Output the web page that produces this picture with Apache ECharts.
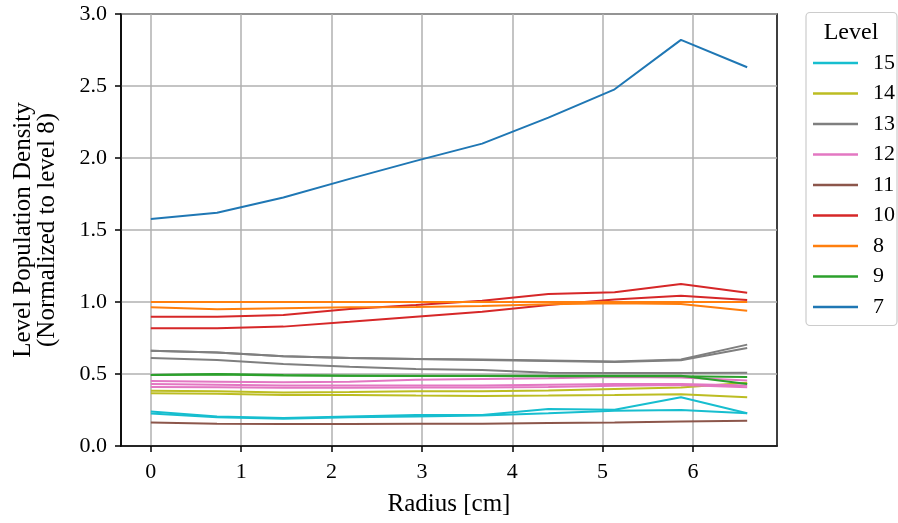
<!DOCTYPE html>
<html>
<head>
<meta charset="utf-8">
<script src="https://cdn.jsdelivr.net/npm/echarts@6/dist/echarts.min.js"></script>
<style>
  html, body { margin: 0; padding: 0; background: #fff; }
  #chart { width: 898px; height: 523px; }
</style>
</head>
<body>
<div id="chart"></div>
<script>
// radius positions [cm]
const radius = [0, 0.733, 1.467, 2.2, 2.933, 3.667, 4.4, 5.133, 5.867, 6.6]
const xTicks = [0, 1, 2, 3, 4, 5, 6]

// level populations normalized to level 8 (several lines per level)
const lvl15a = [0.240, 0.205, 0.195, 0.205, 0.215, 0.215, 0.257, 0.252, 0.338, 0.227]
const lvl15b = [0.225, 0.200, 0.190, 0.200, 0.205, 0.212, 0.227, 0.245, 0.250, 0.227]
const lvl14a = [0.384, 0.380, 0.372, 0.375, 0.380, 0.380, 0.385, 0.396, 0.407, 0.440]
const lvl14b = [0.366, 0.362, 0.355, 0.355, 0.350, 0.347, 0.350, 0.354, 0.360, 0.338]
const lvl13a = [0.662, 0.650, 0.623, 0.611, 0.604, 0.600, 0.593, 0.586, 0.600, 0.704]
const lvl13b = [0.662, 0.650, 0.623, 0.611, 0.604, 0.598, 0.590, 0.583, 0.595, 0.680]
const lvl13c = [0.611, 0.597, 0.569, 0.551, 0.535, 0.528, 0.509, 0.507, 0.507, 0.509]
const lvl12a = [0.452, 0.447, 0.442, 0.447, 0.460, 0.465, 0.470, 0.480, 0.475, 0.455]
const lvl12b = [0.430, 0.425, 0.420, 0.420, 0.420, 0.420, 0.425, 0.430, 0.430, 0.420]
const lvl12c = [0.410, 0.408, 0.405, 0.405, 0.407, 0.407, 0.410, 0.418, 0.424, 0.408]
const lvl11 = [0.164, 0.155, 0.153, 0.153, 0.154, 0.155, 0.160, 0.164, 0.171, 0.176]
const lvl10a = [0.898, 0.898, 0.910, 0.951, 0.979, 1.009, 1.056, 1.067, 1.125, 1.065]
const lvl10b = [0.817, 0.817, 0.829, 0.863, 0.898, 0.933, 0.979, 1.018, 1.044, 1.014]
const lvl8a = [1, 1, 1, 1, 1, 1, 1, 1, 1, 1]
const lvl8b = [0.963, 0.949, 0.956, 0.963, 0.965, 0.972, 0.984, 0.991, 0.986, 0.940]
const lvl9a = [0.493, 0.500, 0.493, 0.488, 0.488, 0.488, 0.488, 0.488, 0.488, 0.430]
const lvl9b = [0.493, 0.497, 0.490, 0.488, 0.486, 0.486, 0.485, 0.486, 0.484, 0.480]
const lvl7 = [1.576, 1.620, 1.726, 1.855, 1.980, 2.100, 2.280, 2.477, 2.820, 2.630]

const levelNames = ['15', '14', '13', '12', '11', '10', '8', '9', '7']
const levelColors = {
    '15': '#17becf', '14': '#bcbd22', '13': '#7f7f7f', '12': '#e377c2', '11': '#8c564b',
    '10': '#d62728', '8': '#ff7f0e', '9': '#2ca02c', '7': '#1f77b4'
}
const lines = [
    ['15', lvl15a], ['15', lvl15b],
    ['14', lvl14a], ['14', lvl14b],
    ['13', lvl13a], ['13', lvl13b], ['13', lvl13c],
    ['12', lvl12a], ['12', lvl12b], ['12', lvl12c],
    ['11', lvl11],
    ['10', lvl10a], ['10', lvl10b],
    ['8', lvl8a], ['8', lvl8b],
    ['9', lvl9a], ['9', lvl9b],
    ['7', lvl7]
]

const font = 'Liberation Serif'

const chart = echarts.init(document.getElementById('chart'))
const option = {
    animation: false,
    textStyle: { fontFamily: font },
    grid: {
        left: 121, right: 121, top: 14, bottom: 77,
        show: true, borderColor: '#000', borderWidth: 1.5, backgroundColor: 'transparent'
    },
    xAxis: {
        type: 'value',
        min: -0.33,
        max: 6.93,
        name: 'Radius [cm]',
        nameLocation: 'middle',
        nameGap: 46,
        nameTextStyle: { fontFamily: font, fontSize: 25, color: '#000' },
        axisLine: { show: true, onZero: false, lineStyle: { color: '#000', width: 1.5 } },
        axisTick: { show: true, length: 6, lineStyle: { color: '#000', width: 1.5 }, customValues: xTicks },
        axisLabel: { fontFamily: font, fontSize: 22, color: '#000', margin: 15, customValues: xTicks },
        splitLine: { show: true, lineStyle: { color: '#b0b0b0', width: 1.5 }, customValues: xTicks }
    },
    yAxis: {
        type: 'value',
        min: 0,
        max: 3,
        interval: 0.5,
        name: 'Level Population Density\n(Normalized to level 8)',
        nameLocation: 'middle',
        nameGap: 62,
        nameTextStyle: { fontFamily: font, fontSize: 25, color: '#000', lineHeight: 24 },
        axisLine: { show: true, onZero: false, lineStyle: { color: '#000', width: 1.5 } },
        axisTick: { show: true, length: 6, lineStyle: { color: '#000', width: 1.5 } },
        axisLabel: {
            fontFamily: font, fontSize: 22, color: '#000', margin: 14,
            formatter: (v) => v.toFixed(1)
        },
        splitLine: { show: true, lineStyle: { color: '#b0b0b0', width: 1.5 } }
    },
    legend: {
        data: levelNames,
        orient: 'vertical',
        left: 808,
        top: 47,
        icon: 'rect',
        itemWidth: 45,
        itemHeight: 2.5,
        itemGap: 8.5,
        textStyle: { fontFamily: font, fontSize: 22, color: '#000', padding: [0, 0, 0, 10] }
    },
    graphic: [
        {
            type: 'rect',
            z: -1,
            shape: { x: 806, y: 12.5, width: 91, height: 313, r: 4 },
            style: { fill: '#fff', stroke: '#cccccc', lineWidth: 1.2 }
        },
        {
            type: 'text',
            x: 851, y: 33,
            style: {
                text: 'Level', fontFamily: font, fontSize: 24, fill: '#000',
                align: 'center', verticalAlign: 'middle'
            }
        }
    ],
    series: lines.map(([name, vals]) => ({
        name: name,
        type: 'line',
        symbol: 'none',
        color: levelColors[name],
        lineStyle: { width: 2, color: levelColors[name] },
        data: radius.map((r, i) => [r, vals[i]])
    }))
}
chart.setOption(option)
</script>
</body>
</html>
